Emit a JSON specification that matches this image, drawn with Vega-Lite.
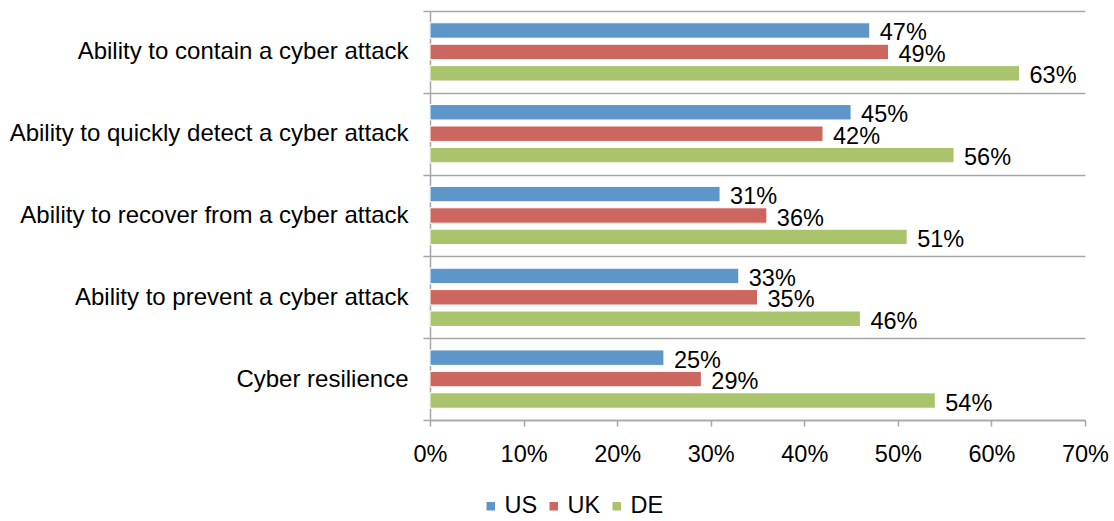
{
  "$schema": "https://vega.github.io/schema/vega-lite/v6.json",
  "autosize": "none",
  "width": 655,
  "height": 409,
  "padding": {"left": 430, "top": 11, "right": 29, "bottom": 101},
  "background": "white",
  "config": {
    "font": "Liberation Sans",
    "view": {"stroke": null}
  },
  "data": {
    "values": [
      {"item": "Ability to contain a cyber attack", "country": "US", "value": 0.47},
      {"item": "Ability to contain a cyber attack", "country": "UK", "value": 0.49},
      {"item": "Ability to contain a cyber attack", "country": "DE", "value": 0.63},
      {"item": "Ability to quickly detect a cyber attack", "country": "US", "value": 0.45},
      {"item": "Ability to quickly detect a cyber attack", "country": "UK", "value": 0.42},
      {"item": "Ability to quickly detect a cyber attack", "country": "DE", "value": 0.56},
      {"item": "Ability to recover from a cyber attack", "country": "US", "value": 0.31},
      {"item": "Ability to recover from a cyber attack", "country": "UK", "value": 0.36},
      {"item": "Ability to recover from a cyber attack", "country": "DE", "value": 0.51},
      {"item": "Ability to prevent a cyber attack", "country": "US", "value": 0.33},
      {"item": "Ability to prevent a cyber attack", "country": "UK", "value": 0.35},
      {"item": "Ability to prevent a cyber attack", "country": "DE", "value": 0.46},
      {"item": "Cyber resilience", "country": "US", "value": 0.25},
      {"item": "Cyber resilience", "country": "UK", "value": 0.29},
      {"item": "Cyber resilience", "country": "DE", "value": 0.54}
    ]
  },
  "encoding": {
    "y": {
      "field": "item",
      "type": "nominal",
      "sort": null,
      "scale": {"paddingInner": 0, "paddingOuter": 0},
      "axis": {
        "title": null,
        "tickBand": "extent",
        "grid": true,
        "gridColor": "#A6A6A6",
        "gridWidth": 1.5,
        "domainColor": "#A6A6A6",
        "domainWidth": 1.5,
        "tickColor": "#A6A6A6",
        "tickWidth": 1.5,
        "tickSize": 7,
        "labelPadding": 15,
        "labelFontSize": 24,
        "labelColor": "black",
        "labelLimit": 0
      }
    },
    "x": {
      "field": "value",
      "type": "quantitative",
      "scale": {"domain": [0, 0.7], "nice": false},
      "axis": {
        "title": null,
        "format": ".0%",
        "values": [0, 0.1, 0.2, 0.3, 0.4, 0.5, 0.6, 0.7],
        "grid": false,
        "labelFlush": false,
        "domainColor": "#A6A6A6",
        "domainWidth": 1.5,
        "tickColor": "#A6A6A6",
        "tickWidth": 1.5,
        "tickSize": 6,
        "labelPadding": 16,
        "labelFontSize": 23.5,
        "labelColor": "black"
      }
    },
    "yOffset": {
      "field": "country",
      "type": "nominal",
      "sort": ["US", "UK", "DE"],
      "scale": {"paddingInner": 0.28, "paddingOuter": 0.55}
    }
  },
  "layer": [
    {
      "mark": {"type": "bar", "stroke": "white", "strokeWidth": 1},
      "encoding": {
        "color": {
          "field": "country",
          "type": "nominal",
          "sort": ["US", "UK", "DE"],
          "scale": {"domain": ["US", "UK", "DE"], "range": ["#5E96CA", "#CE6660", "#A9C46C"]},
          "legend": {
            "title": null,
            "orient": "none",
            "direction": "horizontal",
            "legendX": 49,
            "legendY": 483,
            "symbolType": "square",
            "symbolSize": 100,
            "labelFontSize": 23.5,
            "labelColor": "black",
            "columnPadding": 4,
            "labelOffset": 2
          }
        }
      }
    },
    {
      "mark": {"type": "text", "align": "left", "baseline": "middle", "dx": 10, "dy": 3, "fontSize": 23.5, "color": "black"},
      "encoding": {
        "text": {"field": "value", "type": "quantitative", "format": ".0%"}
      }
    }
  ]
}
